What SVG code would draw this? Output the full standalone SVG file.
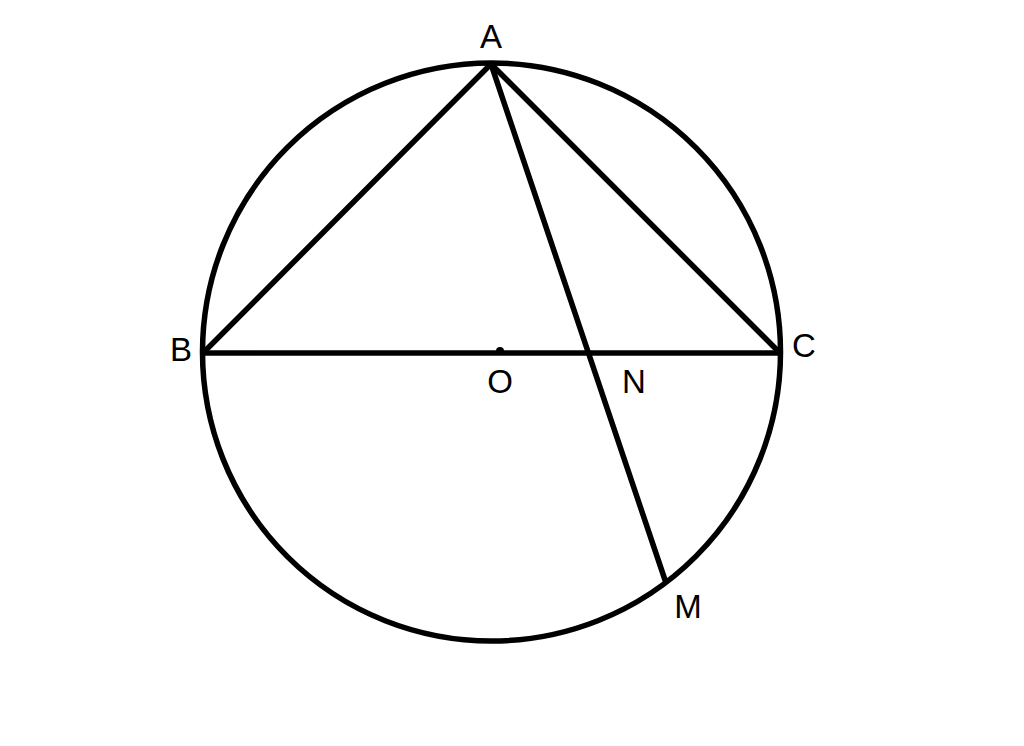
<svg xmlns="http://www.w3.org/2000/svg" width="1024" height="746" viewBox="0 0 1024 746">
<style>
.s{fill:none;stroke:#000;stroke-width:5.5;stroke-linecap:round;stroke-linejoin:round}
.t{font-family:"Liberation Sans",Arial,sans-serif;font-size:33px;fill:#000;text-anchor:middle}
</style>
<rect width="1024" height="746" fill="#fff"/>
<g id="circle"><circle class="s" cx="491.5" cy="352" r="289"/></g>
<g id="connectors">
<line class="s" x1="491" y1="64" x2="203" y2="353"/>
<line class="s" x1="491" y1="64" x2="780" y2="353"/>
<line class="s" x1="203" y1="353" x2="780" y2="353"/>
<line class="s" x1="491" y1="64" x2="665" y2="580"/>
</g>
<g id="O"><circle cx="500" cy="351" r="4" fill="#000"/><text class="t" x="500" y="393">O</text></g>
<g id="A"><text class="t" x="491" y="48">A</text></g>
<g id="B"><text class="t" x="181" y="361">B</text></g>
<g id="C"><text class="t" x="804" y="357">C</text></g>
<g id="N"><text class="t" x="634" y="393">N</text></g>
<g id="M"><text class="t" x="688" y="618">M</text></g>
</svg>
